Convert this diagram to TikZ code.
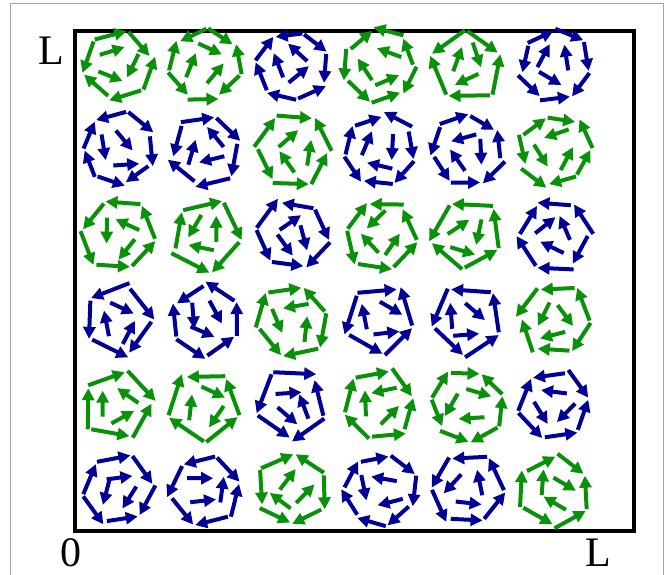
\documentclass[tikz,border=0pt]{standalone}
\usetikzlibrary{arrows.meta}
\usepackage{fontspec}
\setmainfont{Liberation Serif}
\definecolor{cg}{RGB}{10,145,10}
\definecolor{cb}{RGB}{0,0,150}
\begin{document}
\begin{tikzpicture}[x=1pt,y=-1pt,
  arr/.style={line width=4pt,-{Triangle[length=12pt,width=12pt]}},
  lab/.style={font=\fontsize{42}{42}\selectfont,inner sep=0pt}]
\useasboundingbox (0,0) rectangle (666,575);
\draw[gray!70,line width=1pt] (10,4) rectangle (663,600);
\draw[line width=4.5pt] (75,31) rectangle (634,531);
\node[lab] (ltop) at (51,51) {L};
\node[lab] (zero) at (71,553) {0};
\node[lab] (lbot) at (598,553) {L};
\pgfmathsetseed{4242}
\foreach \r in {0,...,5}{
 \foreach \c in {0,...,5}{
  \pgfmathsetmacro\cx{118+87.4*\c}
  \pgfmathsetmacro\cy{65+85*\r}
  \pgfmathtruncatemacro\isb{mod(\c,3)==2 ? 1-mod(\r,2) : mod(\r,2)}
  \ifnum\isb=1 \def\col{cb}\else\def\col{cg}\fi
  \pgfmathsetmacro\rot{360*rnd}
  \pgfmathtruncatemacro\N{5+round(2*rnd)}
  \pgfmathsetmacro\dir{rnd<0.5 ? 1 : -1}
  \foreach \k in {1,...,\N}{
   \pgfmathsetmacro\aA{\rot+\dir*360*(\k-1)/\N}
   \pgfmathsetmacro\aB{\rot+\dir*360*\k/\N}
   \pgfmathsetmacro\rA{33+7*rnd}
   \pgfmathsetmacro\rB{33+7*rnd}
   \pgfmathsetmacro\xA{\cx+\rA*cos(\aA)}
   \pgfmathsetmacro\yA{\cy+\rA*sin(\aA)}
   \pgfmathsetmacro\xB{\cx+\rB*cos(\aB)}
   \pgfmathsetmacro\yB{\cy+\rB*sin(\aB)}
   \pgfmathsetmacro\xs{\xA+0.04*(\xB-\xA)}
   \pgfmathsetmacro\ys{\yA+0.04*(\yB-\yA)}
   \pgfmathsetmacro\xe{\xA+0.97*(\xB-\xA)}
   \pgfmathsetmacro\ye{\yA+0.97*(\yB-\yA)}
   \pgfmathtruncatemacro\flip{rnd<0.3 ? 1 : 0}
   \ifnum\flip=1
    \draw[arr,\col] (\xe,\ye) -- (\xs,\ys);
   \else
    \draw[arr,\col] (\xs,\ys) -- (\xe,\ye);
   \fi
  }
  \pgfmathsetmacro\ib{360*rnd}
  \foreach \j in {1,2,3}{
   \pgfmathsetmacro\ia{\ib+120*\j+30*rnd}
   \pgfmathsetmacro\ir{11+6*rnd}
   \pgfmathsetmacro\th{\ia+90+60*rnd-30+180*round(rnd)}
   \pgfmathsetmacro\mx{\cx+\ir*cos(\ia)}
   \pgfmathsetmacro\my{\cy+\ir*sin(\ia)}
   \draw[arr,\col] ({\mx-13*cos(\th)},{\my-13*sin(\th)}) -- ({\mx+13*cos(\th)},{\my+13*sin(\th)});
  }
 }
}
\end{tikzpicture}
\end{document}
